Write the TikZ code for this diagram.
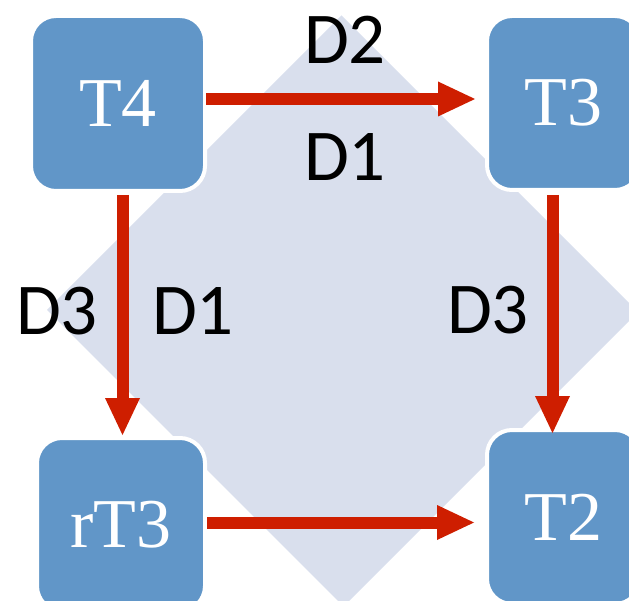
\documentclass[tikz,border=0pt]{standalone}
\usepackage{fontspec}
\setmainfont{Liberation Serif}
\newfontfamily\labelfont{Carlito}
\usetikzlibrary{arrows.meta}
\definecolor{boxblue}{RGB}{97,150,200}
\definecolor{arrred}{RGB}{206,30,0}
\definecolor{diamondbg}{RGB}{217,223,237}
\tikzset{
  tbox/.style={draw=white, line width=4pt, fill=boxblue, rounded corners=25pt,
    inner sep=0pt, text=white, font=\fontsize{70}{80}\selectfont},
  arr/.style={draw=arrred, line width=12pt,
    -{Triangle[length=37pt,width=35pt,line width=0pt]}},
  lbl/.style={inner sep=0pt, font=\labelfont\fontsize{73}{80}\selectfont, text=black}
}
\begin{document}
\begin{tikzpicture}[x=1pt,y=-1pt]
\useasboundingbox (0,0) rectangle (629,601);
\clip (0,0) rectangle (629,601);
\fill[diamondbg] (341.5,15.5) -- (638,312) -- (343.5,606.5) -- (47,310) -- cycle;
\node[tbox, minimum width=174pt, minimum height=175pt] (T4) at (118,103.5) {T4};
\node[tbox, minimum width=153pt, minimum height=174pt] (T3) at (563.5,103) {T3};
\node[tbox, minimum width=153pt, minimum height=174pt] (T2) at (563.5,517) {T2};
\node[tbox, minimum width=168pt, minimum height=173pt] (rT3) at (121,524.5) {rT3};
\draw[arr, shorten <=-1pt, shorten >=10pt] ([yshift=4.5pt]T4.east) -- ([yshift=4.5pt]T4.east -| T3.west);
\draw[arr, shorten <=2pt, shorten >=1pt] ([xshift=4.5pt]T4.south) -- ([xshift=4.5pt]T4.south |- rT3.north);
\draw[arr, shorten <=3pt, shorten >=-5pt] ([xshift=-11pt]T3.south) -- ([xshift=-11pt]T3.south |- T2.north);
\draw[arr, shorten <=0pt, shorten >=11pt] ([yshift=2pt]rT3.east) -- ([yshift=2pt]rT3.east -| T2.west);
\node[lbl] (d2) at (345,40) {D2};
\node[lbl] (d1top) at (345,157) {D1};
\node[lbl] (d3left) at (57,311) {D3};
\node[lbl] (d1left) at (193,311) {D1};
\node[lbl] (d3right) at (488,310) {D3};
\end{tikzpicture}
\end{document}
